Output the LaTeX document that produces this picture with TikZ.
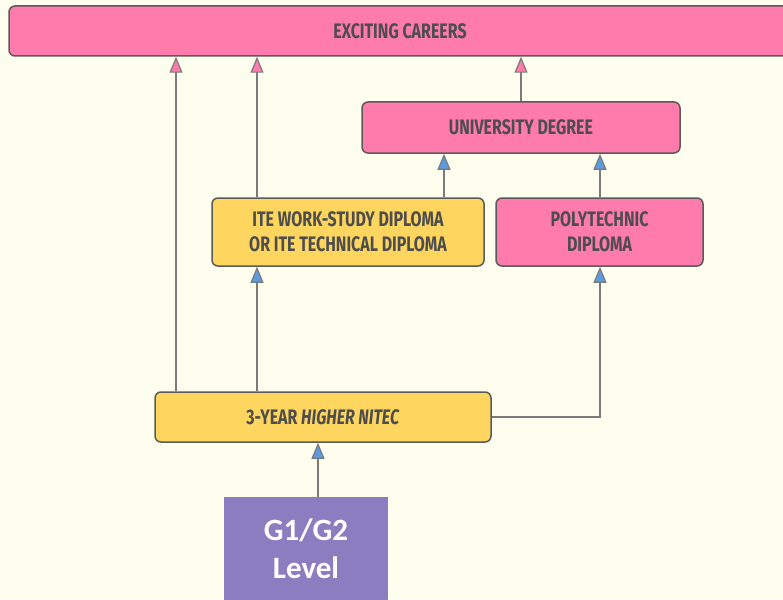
\documentclass[tikz,border=0pt]{standalone}
\usepackage{fontspec}
\setmainfont{Fira Sans}
\newfontfamily\labfont{Fira Sans}[FakeStretch=0.76]
\newfontfamily\lvlfont{Carlito}
\usetikzlibrary{arrows.meta}
\definecolor{bg}{HTML}{FEFEEE}
\definecolor{pinkc}{HTML}{FF7BAC}
\definecolor{yell}{HTML}{FDD55F}
\definecolor{purp}{HTML}{8C7DC1}
\definecolor{bluec}{HTML}{5B9BE0}
\definecolor{edge}{HTML}{5A5A5A}
\definecolor{linec}{HTML}{7A7A7A}
\definecolor{txt}{HTML}{4D4D4D}
\begin{document}
\begin{tikzpicture}[x=1pt,y=-1pt,
  box/.style={draw=edge, line width=1.5pt, rounded corners=6pt, text=txt, align=center, inner sep=0pt,
    font=\labfont\bfseries\fontsize{21}{25}\selectfont},
  pinkbox/.style={box, fill=pinkc},
  yellbox/.style={box, fill=yell},
  conn/.style={draw=linec, line width=1.5pt},
  pa/.style={conn, -{Triangle[length=16pt,width=13pt,fill=pinkc,line width=1.2pt]}},
  ba/.style={conn, -{Triangle[length=16pt,width=13pt,fill=bluec,line width=1.2pt]}}]
\useasboundingbox (0,0) rectangle (783,599);
\fill[bg] (0,0) rectangle (783,599);
\begin{scope}
\clip (0,0) rectangle (783,599);
\node[pinkbox, minimum width=782pt, minimum height=50pt] (careers) at (400,31) {EXCITING CAREERS};
\node[pinkbox, minimum width=318pt, minimum height=51pt] (uni) at (521,127.5) {UNIVERSITY DEGREE};
\node[yellbox, minimum width=272pt, minimum height=68pt] (ite) at (348,232) {ITE WORK-STUDY DIPLOMA\\OR ITE TECHNICAL DIPLOMA};
\node[pinkbox, minimum width=207pt, minimum height=68pt] (poly) at (599.5,232) {POLYTECHNIC\\DIPLOMA};
\node[yellbox, minimum width=336pt, minimum height=50pt] (hn) at (323,417) {3-YEAR \textit{HIGHER NITEC}};
\node[fill=purp, minimum width=164pt, minimum height=104pt, text=white, align=center, inner sep=0pt,
  font=\lvlfont\bfseries\fontsize{31}{38}\selectfont] (lvl) at (306,549) {G1/G2\\Level};
\end{scope}
\coordinate (xa) at (176,0);
\coordinate (xb) at (257,0);
\coordinate (xc) at (444,0);
\coordinate (xd) at (600,0);
\coordinate (xe) at (318,0);
\draw[pa] (uni.north) -- (careers.south -| uni.north);
\draw[pa] (hn.north -| xa) -- (careers.south -| xa);
\draw[pa] (ite.north -| xb) -- (careers.south -| xb);
\draw[ba] (ite.north -| xc) -- (uni.south -| xc);
\draw[ba] (poly.north -| xd) -- (uni.south -| xd);
\draw[ba] (hn.north -| xb) -- (ite.south -| xb);
\draw[ba] (hn.east) -| (poly.south -| xd);
\draw[ba] (lvl.north -| xe) -- (hn.south -| xe);
\end{tikzpicture}
\end{document}
